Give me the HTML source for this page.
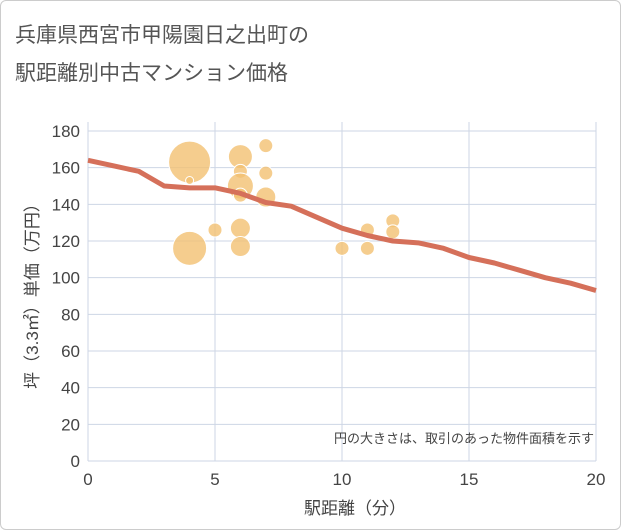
<!DOCTYPE html>
<html><head><meta charset="utf-8"><style>
body{margin:0;background:#fff;}
#w{position:relative;width:619px;height:528px;border:1px solid #ccc;border-radius:6px;background:#fff;overflow:hidden;font-family:"Liberation Sans","Noto Sans CJK JP",sans-serif;}
.t{position:absolute;left:14px;font-size:21px;color:#555;}
</style></head><body>
<div id="w">
<div class="t" style="top:18px">兵庫県西宮市甲陽園日之出町の</div>
<div class="t" style="top:56px">駅距離別中古マンション価格</div>
<svg id="s" width="621" height="530" style="position:absolute;left:-1px;top:-1px"></svg>
</div>
<script>
const xTicks=[0,5,10,15,20];
const yTicks=[0,20,40,60,80,100,120,140,160,180];
const lineX=[0,1,2,3,4,5,6,7,8,9,10,11,12,13,14,15,16,17,18,19,20];
const lineY=[164,161,158,150,149,149,146,141,139,133,127,123,120,119,116,111,108,104,100,97,93];
const bubX=[4,4,4,5,6,6,6,6,6,6,7,7,7,10,11,11,12,12];
const bubY=[163,116,153,126,166,158,150,145,127,117,172,157,144,116,126,116,131,125];
const bubR=[21,17,4,7,12,7,13,7,10,10,7,7,10,7,7,7,7,7];
const NS='http://www.w3.org/2000/svg';
const s=document.getElementById('s');
const X=v=>88+v*25.4, Y=v=>461-v*1.8333;
function mk(t,a,p){const e=document.createElementNS(NS,t);for(const k in a)e.setAttribute(k,a[k]);(p||s).appendChild(e);return e;}
yTicks.forEach(v=>{
 const l=mk('line',{x1:88,x2:596,y1:Y(v),y2:Y(v),stroke:'#cdd6e4','stroke-width':1});
 
 
 const t=mk('text',{x:80,y:Y(v)+6,'text-anchor':'end','font-size':17,fill:'#444'});t.textContent=v;
 
 
});
xTicks.forEach(v=>{
 const l=mk('line',{x1:X(v),x2:X(v),y1:122,y2:461,stroke:'#cdd6e4','stroke-width':1});
 
 
 const t=mk('text',{x:X(v),y:485,'text-anchor':'middle','font-size':17,fill:'#444'});t.textContent=v;
 
 
});
bubX.forEach((v,i)=>{
 const c=mk('circle',{cx:X(v),cy:Y(bubY[i]),r:bubR[i],fill:'#f3c172','fill-opacity':0.8,stroke:'#fff','stroke-width':1});
 
 
});
const p=mk('polyline',{points:lineX.map((v,i)=>X(v)+','+Y(lineY[i])).join(' '),fill:'none',stroke:'#d5705a','stroke-width':5,'stroke-linejoin':'round'});


const n=mk('text',{x:594,y:443,'text-anchor':'end','font-size':13,fill:'#444'});n.textContent='円の大きさは、取引のあった物件面積を示す';


const xt=mk('text',{x:355,y:514,'text-anchor':'middle','font-size':17,fill:'#444'});xt.textContent='駅距離（分）';


const yt=mk('text',{x:0,y:0,'text-anchor':'middle','font-size':17,fill:'#444',transform:'translate(38,292) rotate(-90)'});yt.textContent='坪（3.3㎡）単価（万円）';


</script>
</body></html>
